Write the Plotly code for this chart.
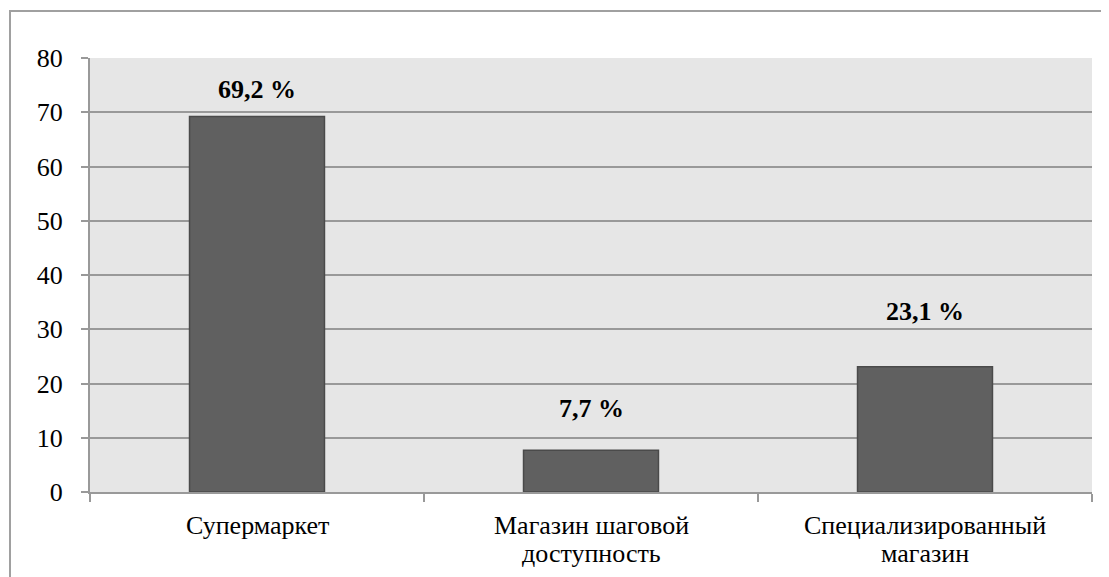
import plotly.graph_objects as go

# data
categories = ["Супермаркет", "Магазин шаговой<br>доступность", "Специализированный<br>магазин"]
values = [69.2, 7.7, 23.1]
labels = ["69,2 %", "7,7 %", "23,1 %"]
y_ticks = [0, 10, 20, 30, 40, 50, 60, 70, 80]

# label offsets above bar tops (px), labels were moved by hand in the original
label_shift = [27, 42, 55]

SERIF = "Liberation Serif, Times New Roman, DejaVu Serif, serif"

# page body has an 8px margin, so the figure is drawn 8px in from the corner
OFF = 8
W, H = 1109 - OFF, 577 - OFF
ML, MR, MT, MB = 90 - OFF, 17, 58 - OFF, 85
pw, ph = W - ML - MR, H - MT - MB

fig = go.Figure()
fig.add_trace(go.Bar(x=categories, y=values,
                     marker_color="#606060",
                     marker_line=dict(width=1.5, color="#4a4a4a"),
                     width=0.404, hoverinfo="skip"))

for cat, val, lab, sh in zip(categories, values, labels, label_shift):
    fig.add_annotation(x=cat, y=val, text=f"<b>{lab}</b>", showarrow=False,
                       yanchor="middle", yshift=sh,
                       font=dict(family=SERIF, size=26, color="black"))

# category labels drawn line by line (tighter line spacing than plotly's ticks)
for cat in categories:
    for i, line in enumerate(cat.split("<br>")):
        fig.add_annotation(x=cat, y=0, yref="paper", text=line, showarrow=False,
                           yanchor="middle", yshift=-33 - 28 * i,
                           font=dict(family=SERIF, size=26, color="black"))

# outer frame (visible on top and left only)
fig.add_shape(type="rect", xref="paper", yref="paper",
              x0=(10 - OFF - ML) / pw, x1=(W + 20 - ML) / pw,
              y0=-(H + 20 - MT - ph) / ph, y1=1 + (MT - (11 - OFF)) / ph,
              line=dict(color="#a0a0a0", width=2), layer="below")

fig.update_yaxes(range=[0, 80], tickvals=y_ticks, showgrid=True,
                 gridcolor="#999999", gridwidth=2,
                 showline=True, linecolor="#999999", linewidth=2,
                 ticks="outside", ticklen=7, tickcolor="#999999", tickwidth=2,
                 ticklabelstandoff=13, zeroline=False, automargin=False,
                 tickfont=dict(family=SERIF, size=26, color="black"))
fig.update_xaxes(showline=True, linecolor="#999999", linewidth=2,
                 ticks="outside", tickson="boundaries", ticklen=8,
                 tickcolor="#999999", tickwidth=2, showgrid=False,
                 showticklabels=False, automargin=False)

fig.update_layout(width=W, height=H,
                  margin=dict(l=ML, r=MR, t=MT, b=MB),
                  plot_bgcolor="#e6e6e6", paper_bgcolor="white",
                  showlegend=False,
                  font=dict(family=SERIF, color="black"))

fig.write_html("out.html")
